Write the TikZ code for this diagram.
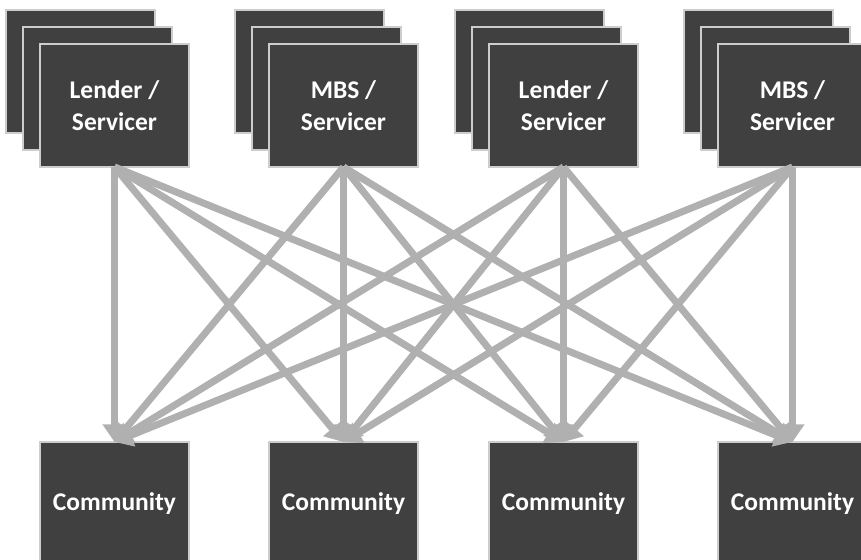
\documentclass[tikz,border=0pt]{standalone}
\usepackage{fontspec}
\setmainfont{Carlito}
\usetikzlibrary{arrows.meta}
\definecolor{fondBoite}{RGB}{64,64,64}
\definecolor{grisFleche}{RGB}{176,176,176}
\definecolor{grisBord}{RGB}{205,205,205}

\begin{document}
\begin{tikzpicture}[x=0.02cm,y=-0.02cm]
% style des noeuds
\tikzstyle{boite} = [rectangle, draw=grisBord, line width=0.6pt, fill=fondBoite, minimum width=2.98cm, minimum height=2.46cm, inner sep=0pt, outer sep=0pt, anchor=north west, text=white, align=center, font=\fontsize{14.5}{18}\selectfont\bfseries]
% style des flèches
\tikzstyle{lien} = [-{Triangle[length=10pt,width=13pt]}, draw=grisFleche, line width=4pt]

\clip (0,0) rectangle (861,559);

%% piles du haut
\node[boite] (preteur1c) at (6,10) {};
\node[boite] (preteur1b) at (23,27) {};
\node[boite] (preteur1) at (40,44) {Lender /\\Servicer};
%
\node[boite] (mbs1c) at (235,10) {};
\node[boite] (mbs1b) at (252,27) {};
\node[boite] (mbs1) at (269,44) {MBS /\\Servicer};
%
\node[boite] (preteur2c) at (455,10) {};
\node[boite] (preteur2b) at (472,27) {};
\node[boite] (preteur2) at (489,44) {Lender /\\Servicer};
%
\node[boite] (mbs2c) at (684,10) {};
\node[boite] (mbs2b) at (701,27) {};
\node[boite] (mbs2) at (718,44) {MBS /\\Servicer};

%% communautés
\node[boite] (communaute1) at (40,442) {Community};
\node[boite] (communaute2) at (269,442) {Community};
\node[boite] (communaute3) at (489,442) {Community};
\node[boite] (communaute4) at (718,442) {Community};

%% placement des flèches
\draw[lien] (preteur1.south) -- (communaute1.north);
\draw[lien] (preteur1.south) -- (communaute2.north);
\draw[lien] (preteur1.south) -- (communaute3.north);
\draw[lien] (preteur1.south) -- (communaute4.north);
\draw[lien] (mbs1.south) -- (communaute1.north);
\draw[lien] (mbs1.south) -- (communaute2.north);
\draw[lien] (mbs1.south) -- (communaute3.north);
\draw[lien] (mbs1.south) -- (communaute4.north);
\draw[lien] (preteur2.south) -- (communaute1.north);
\draw[lien] (preteur2.south) -- (communaute2.north);
\draw[lien] (preteur2.south) -- (communaute3.north);
\draw[lien] (preteur2.south) -- (communaute4.north);
\draw[lien] (mbs2.south) -- (communaute1.north);
\draw[lien] (mbs2.south) -- (communaute2.north);
\draw[lien] (mbs2.south) -- (communaute3.north);
\draw[lien] (mbs2.south) -- (communaute4.north);
\end{tikzpicture}
\end{document}
